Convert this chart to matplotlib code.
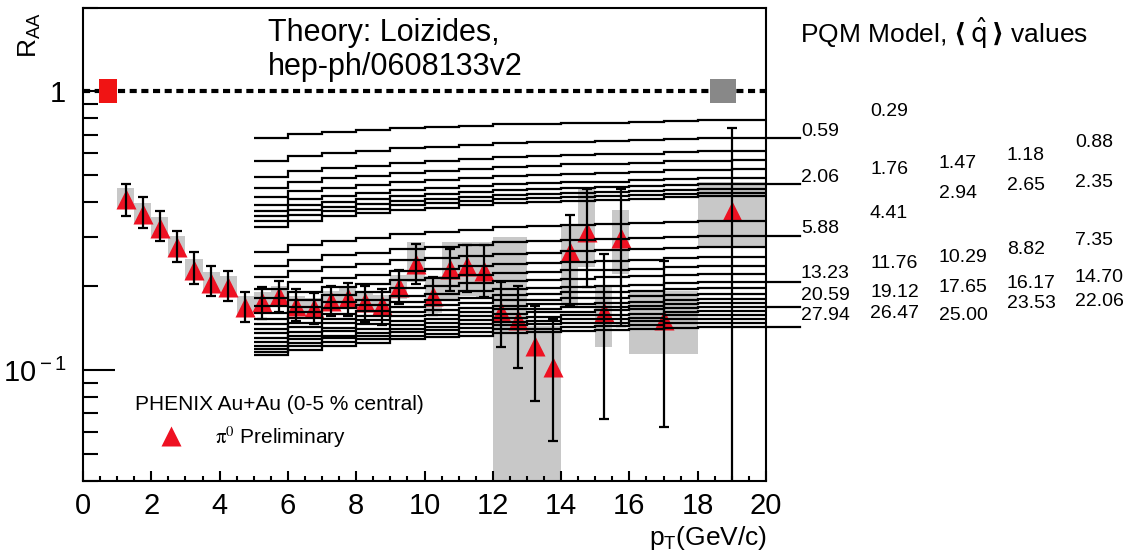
import numpy as np
import matplotlib
matplotlib.use("Agg")
import matplotlib.pyplot as plt
from matplotlib.ticker import MultipleLocator, LogLocator, NullFormatter
from matplotlib.patches import Rectangle

plt.rcParams['font.family'] = ['Liberation Sans', 'DejaVu Sans']
plt.rcParams['mathtext.fontset'] = 'custom'
plt.rcParams['mathtext.rm'] = 'Liberation Sans'
plt.rcParams['mathtext.it'] = 'Liberation Sans:italic'

# PHENIX Au+Au 0-5% central, pi0 R_AA (preliminary)
pt = [1.25, 1.75, 2.25, 2.75, 3.25, 3.75, 4.25, 4.75, 5.25, 5.75, 6.25, 6.75,
      7.25, 7.75, 8.25, 8.75, 9.25, 9.75, 10.25, 10.75, 11.25, 11.75, 12.25,
      12.75, 13.25, 13.75, 14.25, 14.75, 15.25, 15.75, 17.0, 19.0]
pt_halfbin = [0.25] * 30 + [1.0, 1.0]
raa = [0.412, 0.364, 0.324, 0.277, 0.229, 0.206, 0.199, 0.169, 0.176, 0.185,
       0.170, 0.167, 0.177, 0.182, 0.176, 0.171, 0.199, 0.241, 0.185, 0.231,
       0.237, 0.227, 0.162, 0.151, 0.122, 0.103, 0.266, 0.314, 0.162, 0.298,
       0.151, 0.373]
stat_lo = [0.358, 0.324, 0.291, 0.245, 0.204, 0.185, 0.177, 0.149, 0.153, 0.161,
           0.150, 0.146, 0.156, 0.156, 0.149, 0.145, 0.173, 0.204, 0.157, 0.193,
           0.191, 0.183, 0.121, 0.102, 0.0776, 0.0557, 0.170, 0.199, 0.0665, 0.144,
           0.0625, 0.03]
stat_hi = [0.467, 0.419, 0.373, 0.316, 0.266, 0.237, 0.227, 0.191, 0.198, 0.209,
           0.195, 0.189, 0.200, 0.205, 0.201, 0.195, 0.228, 0.284, 0.215, 0.272,
           0.280, 0.280, 0.207, 0.200, 0.170, 0.153, 0.359, 0.448, 0.262, 0.448,
           0.247, 0.742]
sys_lo = [0.380, 0.334, 0.297, 0.254, 0.210, 0.189, 0.183, 0.155, 0.162, 0.170,
          0.156, 0.154, 0.163, 0.167, 0.162, 0.157, 0.180, 0.207, 0.160, 0.180,
          0.185, 0.180, 0.03, 0.03, 0.03, 0.03, 0.170, 0.235, 0.121, 0.222,
          0.114, 0.277]
sys_hi = [0.450, 0.397, 0.353, 0.302, 0.250, 0.225, 0.217, 0.184, 0.191, 0.201,
          0.185, 0.182, 0.193, 0.198, 0.192, 0.186, 0.220, 0.289, 0.218, 0.289,
          0.289, 0.289, 0.300, 0.300, 0.144, 0.144, 0.330, 0.448, 0.199, 0.374,
          0.193, 0.475]
norm_lo, norm_hi = 0.91, 1.11

# PQM model (Loizides), R_AA in 1 GeV/c bins from 5 to 20 GeV/c
pqm_edges = [5, 6, 7, 8, 9, 10, 11, 12, 13, 14, 15, 16, 17, 18, 19, 20]
qhat = ['0.29', '0.59', '0.88', '1.18', '1.47', '1.76', '2.06', '2.35', '2.65',
        '2.94', '4.41', '5.88', '7.35', '8.82', '10.29', '11.76', '13.23',
        '14.70', '16.17', '17.65', '19.12', '20.59', '22.06', '23.53', '25.00',
        '26.47', '27.94']
pqm_raa = [
    [0.683, 0.702, 0.716, 0.725, 0.738, 0.745, 0.753, 0.762, 0.766, 0.770, 0.773, 0.778, 0.784, 0.787, 0.788],
    [0.565, 0.586, 0.601, 0.611, 0.625, 0.633, 0.643, 0.652, 0.657, 0.661, 0.665, 0.669, 0.676, 0.680, 0.681],
    [0.495, 0.516, 0.531, 0.541, 0.555, 0.563, 0.572, 0.581, 0.586, 0.590, 0.594, 0.598, 0.605, 0.609, 0.610],
    [0.452, 0.473, 0.487, 0.498, 0.511, 0.519, 0.528, 0.537, 0.542, 0.547, 0.550, 0.555, 0.561, 0.565, 0.566],
    [0.419, 0.438, 0.452, 0.461, 0.474, 0.482, 0.490, 0.499, 0.503, 0.507, 0.510, 0.514, 0.521, 0.524, 0.525],
    [0.392, 0.410, 0.422, 0.431, 0.442, 0.449, 0.457, 0.465, 0.469, 0.473, 0.475, 0.479, 0.485, 0.488, 0.489],
    [0.373, 0.390, 0.402, 0.411, 0.422, 0.429, 0.436, 0.444, 0.447, 0.451, 0.454, 0.458, 0.463, 0.466, 0.467],
    [0.358, 0.374, 0.386, 0.394, 0.405, 0.411, 0.418, 0.426, 0.429, 0.433, 0.435, 0.439, 0.444, 0.447, 0.448],
    [0.344, 0.360, 0.372, 0.380, 0.390, 0.397, 0.404, 0.411, 0.414, 0.418, 0.421, 0.424, 0.429, 0.432, 0.433],
    [0.327, 0.344, 0.356, 0.365, 0.376, 0.383, 0.390, 0.398, 0.401, 0.405, 0.408, 0.412, 0.417, 0.420, 0.421],
    [0.266, 0.280, 0.290, 0.297, 0.307, 0.312, 0.318, 0.325, 0.328, 0.331, 0.333, 0.336, 0.341, 0.343, 0.344],
    [0.237, 0.249, 0.258, 0.264, 0.272, 0.277, 0.282, 0.287, 0.290, 0.293, 0.295, 0.297, 0.301, 0.303, 0.304],
    [0.216, 0.227, 0.235, 0.240, 0.248, 0.252, 0.257, 0.262, 0.264, 0.267, 0.269, 0.271, 0.275, 0.276, 0.277],
    [0.196, 0.207, 0.214, 0.220, 0.227, 0.231, 0.236, 0.240, 0.243, 0.245, 0.247, 0.249, 0.253, 0.254, 0.255],
    [0.181, 0.191, 0.198, 0.203, 0.210, 0.214, 0.219, 0.223, 0.225, 0.228, 0.229, 0.231, 0.235, 0.236, 0.237],
    [0.170, 0.179, 0.186, 0.191, 0.197, 0.201, 0.205, 0.209, 0.211, 0.213, 0.215, 0.217, 0.220, 0.222, 0.222],
    [0.160, 0.169, 0.175, 0.179, 0.184, 0.188, 0.192, 0.195, 0.197, 0.199, 0.200, 0.202, 0.205, 0.207, 0.207],
    [0.153, 0.161, 0.167, 0.171, 0.176, 0.179, 0.182, 0.186, 0.188, 0.190, 0.191, 0.193, 0.195, 0.197, 0.197],
    [0.146, 0.154, 0.159, 0.163, 0.168, 0.171, 0.174, 0.178, 0.179, 0.181, 0.182, 0.184, 0.186, 0.188, 0.188],
    [0.140, 0.147, 0.152, 0.156, 0.161, 0.164, 0.167, 0.170, 0.172, 0.173, 0.174, 0.176, 0.178, 0.180, 0.180],
    [0.136, 0.143, 0.148, 0.151, 0.156, 0.158, 0.162, 0.165, 0.166, 0.168, 0.169, 0.170, 0.173, 0.174, 0.174],
    [0.130, 0.137, 0.142, 0.146, 0.150, 0.153, 0.156, 0.159, 0.161, 0.162, 0.164, 0.165, 0.167, 0.169, 0.169],
    [0.126, 0.133, 0.138, 0.141, 0.145, 0.148, 0.151, 0.154, 0.155, 0.157, 0.158, 0.159, 0.162, 0.163, 0.163],
    [0.122, 0.129, 0.133, 0.136, 0.141, 0.143, 0.146, 0.149, 0.150, 0.152, 0.153, 0.154, 0.157, 0.158, 0.158],
    [0.119, 0.125, 0.130, 0.133, 0.137, 0.139, 0.142, 0.145, 0.146, 0.147, 0.148, 0.150, 0.152, 0.153, 0.153],
    [0.116, 0.122, 0.126, 0.129, 0.133, 0.135, 0.137, 0.140, 0.141, 0.143, 0.144, 0.145, 0.147, 0.148, 0.148],
    [0.113, 0.118, 0.122, 0.125, 0.129, 0.131, 0.133, 0.136, 0.137, 0.138, 0.139, 0.140, 0.142, 0.143, 0.143],
]

# where the qhat labels sit (figure pixels, left edge / centre)
label_pos = [(870, 112), (801, 132), (1075, 143), (1007, 155), (939, 163),
             (870, 170), (801, 178), (1075, 183), (1007, 186), (939, 193),
             (870, 213), (801, 228), (1075, 240), (1007, 250), (939, 257),
             (870, 264), (801, 273), (1075, 278), (1007, 284), (939, 288),
             (870, 292), (801, 295), (1075, 301), (1007, 304), (939, 316),
             (870, 313), (801, 315)]

W, H = 1132, 558
fig = plt.figure(figsize=(W / 100, H / 100), dpi=100)
ax = fig.add_axes([83 / W, 1 - 481 / H, 683 / W, 473.5 / H])
ax.set_yscale('log')
ax.set_xlim(0, 20)
ax.set_ylim(0.04, 2)

raa_a = np.array(raa)
for x, hw, lo, hi in zip(pt, pt_halfbin, sys_lo, sys_hi):
    ax.add_patch(Rectangle((x - hw, lo), 2 * hw, hi - lo, facecolor='#c8c8c8',
                           edgecolor='none', zorder=1))

tri, = ax.plot(pt, raa, '^', color='#ee1122', ms=14.5, mec='none', zorder=2,
               label=r'$\mathrm{\pi}^{0}$ Preliminary')
ax.errorbar(pt, raa, yerr=[raa_a - np.array(stat_lo), np.array(stat_hi) - raa_a],
            fmt='none', ecolor='k', elinewidth=1.6, capsize=3.5, capthick=1.6,
            zorder=3)

for vals in pqm_raa:
    ax.stairs(vals, pqm_edges, baseline=None, color='k', lw=1.6, zorder=4)

# leader lines from the first label column to its curves
for i in range(1, len(qhat), 5):
    ax.plot([20, 21.0], [pqm_raa[i][-1]] * 2, color='k', lw=1.6, clip_on=False)

for q, (px, py) in zip(qhat, label_pos):
    fig.text(px / W, 1 - py / H, q, fontsize=14, ha='left', va='center')

# unity line and normalisation boxes
ax.axhline(1.0, color='k', lw=3, ls=(0, (1.7, 1.1)), zorder=5)
ax.add_patch(Rectangle((0.47, norm_lo), 0.52, norm_hi - norm_lo,
                       facecolor='#f01414', edgecolor='none', zorder=6))
ax.add_patch(Rectangle((18.35, norm_lo), 0.78, norm_hi - norm_lo,
                       facecolor='#888888', edgecolor='none', zorder=6))

ax.xaxis.set_major_locator(MultipleLocator(2))
ax.xaxis.set_minor_locator(MultipleLocator(0.5))
ax.set_yticks([0.1, 1])
ax.set_yticklabels([r'10$^{\rm -1}$', '1'])
ax.yaxis.set_minor_locator(LogLocator(base=10, subs=(2, 3, 4, 5, 6, 7, 8, 9)))
ax.yaxis.set_minor_formatter(NullFormatter())
ax.tick_params(axis='y', which='major', direction='in', length=23, width=1.5,
               labelsize=21, pad=12)
ax.tick_params(axis='y', which='minor', direction='in', length=11, width=1.5)
ax.tick_params(axis='x', which='major', direction='in', length=7, width=1.5,
               labelsize=21, pad=8)
ax.tick_params(axis='x', which='minor', direction='in', length=3.5, width=1.5)
for s in ax.spines.values():
    s.set_linewidth(1.5)

leg = ax.legend(handles=[tri], title='PHENIX Au+Au (0-5 % central)',
                loc='upper left', bbox_to_anchor=(135 / W, 1 - 395 / H),
                bbox_transform=fig.transFigure, frameon=False, alignment='left',
                handlelength=3.46, handletextpad=0.38, borderpad=0,
                borderaxespad=0, labelspacing=0.5, numpoints=1,
                prop={'size': 15, 'math_fontfamily': 'stix'}, title_fontsize=15)

fig.text(268 / W, 1 - 33 / H, 'Theory: Loizides,', fontsize=22, va='center')
fig.text(268 / W, 1 - 67 / H, 'hep-ph/0608133v2', fontsize=22, va='center')
fig.text(800 / W, 1 - 33 / H,
         r'PQM Model, $\mathbf{\langle}\,\hat{\mathrm{q}}\,\mathbf{\rangle}$ values',
         fontsize=19, va='center', math_fontfamily='dejavusans')
fig.text(30 / W, 1 - 35 / H, r'R$_{\rm AA}$', rotation=90, fontsize=19,
         ha='center', va='center')
fig.text(767 / W, 1 - 538 / H, r'p$_{\rm T}$(GeV/c)', fontsize=19,
         ha='right', va='center')

fig.savefig('out.png', dpi=100)
